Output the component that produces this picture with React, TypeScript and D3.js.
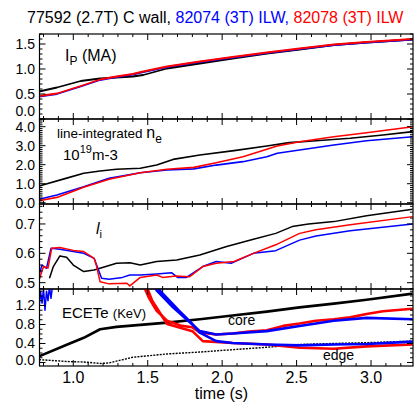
import React from 'react'
import * as d3 from 'd3'

const W = 414
const H = 403
const X0 = 39.5
const X1 = 413
const FONT = "'Liberation Sans', Arial, Helvetica, sans-serif"

const BLACK = '#000000'
const BLUE = '#0000ff'
const RED = '#ff0000'

const titleParts = [
  { text: '77592 (2.7T) C wall, ', color: BLACK },
  { text: '82074 (3T) ILW, ', color: BLUE },
  { text: '82078 (3T) ILW', color: RED },
]

const xTickLabels = [1.0, 1.5, 2.0, 2.5, 3.0]

// plasma current Ip (MA)
const ipTime = [0.77, 0.89, 1.05, 1.18, 1.29, 1.40, 1.47, 1.63, 1.85, 2.07, 2.30, 2.52, 2.75, 2.97, 3.28]
const ipBlack = [0.55, 0.63, 0.76, 0.81, 0.83, 0.85, 0.88, 1.01, 1.11, 1.21, 1.31, 1.39, 1.48, 1.53, 1.59]
const ipBlue = [0.45, 0.50, 0.65, 0.78, 0.84, 0.89, 0.94, 1.04, 1.14, 1.23, 1.32, 1.40, 1.48, 1.53, 1.59]
const ipRed = [0.46, 0.51, 0.66, 0.79, 0.85, 0.90, 0.95, 1.05, 1.15, 1.24, 1.33, 1.41, 1.49, 1.54, 1.60]

// line-integrated density
const neTimeBlack = [0.77, 0.95, 1.07, 1.18, 1.29, 1.45, 1.56, 1.67, 1.85, 2.08, 2.30, 2.45, 2.63, 2.86, 3.08, 3.28]
const neBlack = [0.88, 1.28, 1.55, 1.67, 1.76, 1.81, 1.98, 2.28, 2.51, 2.74, 2.98, 3.16, 3.26, 3.39, 3.56, 3.74]
const neTime = [0.77, 0.89, 1.07, 1.24, 1.45, 1.63, 1.81, 1.96, 2.14, 2.30, 2.37, 2.52, 2.75, 2.97, 3.28]
const neBlue = [0.18, 0.41, 0.84, 1.28, 1.58, 1.72, 1.78, 1.98, 2.16, 2.42, 2.60, 2.77, 3.04, 3.26, 3.47]
const neRed = [0.10, 0.28, 0.81, 1.23, 1.58, 1.76, 1.86, 2.10, 2.42, 2.81, 2.98, 3.21, 3.47, 3.68, 4.00]

// internal inductance li
const liTimeBlack = [0.84, 0.866, 0.91, 0.955, 1.0, 1.07, 1.14, 1.23, 1.29, 1.38, 1.45, 1.56, 1.695, 1.85, 2.03, 2.21, 2.36, 2.47, 2.58, 2.75, 2.97, 3.28]
const liBlack = [0.515, 0.555, 0.591, 0.587, 0.56, 0.538, 0.543, 0.557, 0.566, 0.568, 0.56, 0.572, 0.577, 0.594, 0.623, 0.648, 0.668, 0.691, 0.70, 0.708, 0.728, 0.75]
const liTimeBlue = [0.77, 0.79, 0.82, 0.85, 0.91, 1.0, 1.07, 1.14, 1.19, 1.24, 1.33, 1.38, 1.45, 1.56, 1.66, 1.70, 1.76, 1.87, 1.96, 2.06, 2.21, 2.36, 2.52, 2.63, 2.86, 3.28]
const liBlue = [0.526, 0.56, 0.549, 0.617, 0.614, 0.606, 0.60, 0.583, 0.515, 0.512, 0.518, 0.526, 0.526, 0.53, 0.534, 0.518, 0.518, 0.555, 0.572, 0.566, 0.60, 0.609, 0.645, 0.659, 0.677, 0.70]
const liTimeRed = [0.77, 0.80, 0.83, 0.855, 0.91, 1.0, 1.07, 1.14, 1.157, 1.18, 1.24, 1.36, 1.38, 1.45, 1.56, 1.60, 1.69, 1.78, 1.87, 1.96, 2.08, 2.21, 2.36, 2.52, 2.63, 2.86, 3.28]
const liRed = [0.509, 0.555, 0.55, 0.617, 0.62, 0.61, 0.606, 0.583, 0.555, 0.503, 0.496, 0.498, 0.489, 0.518, 0.526, 0.518, 0.523, 0.52, 0.555, 0.566, 0.572, 0.60, 0.629, 0.668, 0.68, 0.697, 0.725]

// ECE Te (keV), core and edge channels
const teTimeBlackCore = [0.77, 0.96, 1.07, 1.18, 1.29, 1.63, 1.85, 2.07, 2.30, 2.52, 2.75, 2.97, 3.28]
const teBlackCore = [0.13, 0.38, 0.52, 0.70, 0.75, 0.84, 0.91, 0.99, 1.07, 1.16, 1.24, 1.32, 1.45]
const teTimeBlackEdge = [0.77, 0.96, 1.07, 1.18, 1.24, 1.40, 1.63, 1.85, 2.07, 2.30, 2.52, 2.75, 3.00, 3.28]
const teBlackEdge = [0.06, 0.02, 0.01, -0.02, -0.01, 0.11, 0.18, 0.22, 0.27, 0.32, 0.38, 0.40, 0.42, 0.45]
const teTimeBlueEarly = [0.77, 0.78, 0.79, 0.80, 0.81, 0.82, 0.83, 0.84, 0.85, 0.86]
const teBlueEarly = [1.15, 1.5, 1.25, 1.55, 1.1, 1.5, 1.3, 1.6, 1.35, 1.6]
const teTimeBlueCore = [1.53, 1.56, 1.67, 1.76, 1.85, 1.96, 2.07, 2.30, 2.52, 2.75, 2.97, 3.28]
const teBlueCore = [1.7, 1.52, 1.16, 0.91, 0.66, 0.59, 0.61, 0.66, 0.77, 0.88, 0.94, 0.91]
const teTimeBlueEdge = [1.55, 1.58, 1.71, 1.80, 1.85, 1.96, 2.07, 2.30, 2.52, 2.75, 2.97, 3.28]
const teBlueEdge = [1.7, 1.52, 1.09, 0.81, 0.63, 0.45, 0.41, 0.38, 0.36, 0.38, 0.39, 0.44]
const teTimeRedCore = [1.46, 1.51, 1.56, 1.63, 1.73, 1.80, 1.85, 1.96, 2.07, 2.18, 2.30, 2.41, 2.52, 2.63, 2.75, 2.86, 2.97, 3.08, 3.28]
const teRedCore = [1.7, 1.35, 1.09, 0.88, 0.77, 0.74, 0.63, 0.59, 0.61, 0.65, 0.68, 0.77, 0.82, 0.88, 0.91, 0.95, 1.02, 1.08, 1.13]
const teTimeRedEdge = [1.48, 1.53, 1.63, 1.80, 1.87, 2.07, 2.30, 2.52, 2.75, 2.97, 3.28]
const teRedEdge = [1.7, 1.3, 0.81, 0.66, 0.45, 0.41, 0.38, 0.31, 0.29, 0.34, 0.38]

type Series = { t: number[]; v: number[]; color: string; width: number; dash?: string }

type Panel = {
  top: number
  bottom: number
  domain: [number, number]
  major: number
  minor: number
  labelMax: number
  series: Series[]
}

const panels: Panel[] = [
  {
    top: 34, bottom: 119, domain: [0, 1.7], major: 0.5, minor: 0.1, labelMax: 116,
    series: [
      { t: ipTime, v: ipBlack, color: BLACK, width: 1.8 },
      { t: ipTime, v: ipBlue, color: BLUE, width: 1.8 },
      { t: ipTime, v: ipRed, color: RED, width: 1.8 },
    ],
  },
  {
    top: 119, bottom: 204, domain: [-0.068, 4.405], major: 1, minor: 0.1, labelMax: 999,
    series: [
      { t: neTimeBlack, v: neBlack, color: BLACK, width: 1.6 },
      { t: neTime, v: neBlue, color: BLUE, width: 1.6 },
      { t: neTime, v: neRed, color: RED, width: 1.6 },
    ],
  },
  {
    top: 204, bottom: 289, domain: [0.4785, 0.768], major: 0.1, minor: 0.02, labelMax: 999,
    series: [
      { t: liTimeBlack, v: liBlack, color: BLACK, width: 1.5 },
      { t: liTimeBlue, v: liBlue, color: BLUE, width: 1.5 },
      { t: liTimeRed, v: liRed, color: RED, width: 1.5 },
    ],
  },
  {
    top: 289, bottom: 366, domain: [-0.074, 1.547], major: 0.4, minor: 0.1, labelMax: 365,
    series: [
      { t: teTimeBlackCore, v: teBlackCore, color: BLACK, width: 2.6 },
      { t: teTimeBlackEdge, v: teBlackEdge, color: BLACK, width: 1.4, dash: '2,1.2' },
      { t: teTimeBlueEarly, v: teBlueEarly, color: BLUE, width: 1.5 },
      { t: teTimeRedCore, v: teRedCore, color: RED, width: 2.6 },
      { t: teTimeRedEdge, v: teRedEdge, color: RED, width: 2.6 },
      { t: teTimeBlueCore, v: teBlueCore, color: BLUE, width: 2.6 },
      { t: teTimeBlueEdge, v: teBlueEdge, color: BLUE, width: 2.6 },
    ],
  },
]

const x = d3.scaleLinear().domain([0.773, 3.282]).range([X0, X1])

function stepTicks(lo: number, hi: number, step: number) {
  const out: number[] = []
  const a = Math.ceil(lo / step - 1e-9)
  const b = Math.floor(hi / step + 1e-9)
  for (let i = a; i <= b; i++) out.push(+(i * step).toFixed(6))
  return out
}
const isMajor = (v: number, step: number) => Math.abs(v / step - Math.round(v / step)) < 1e-6

function PanelView({ p, i }: { p: Panel; i: number }) {
  const y = d3.scaleLinear().domain(p.domain).range([p.bottom, p.top])
  const xt = stepTicks(0.773, 3.282, 0.1)
  const yt = stepTicks(p.domain[0], p.domain[1], p.minor)
  const fmt = d3.format('.1f')
  const clipId = `clip${i}`
  return (
    <g>
      <defs>
        <clipPath id={clipId}>
          <rect x={X0} y={p.top} width={X1 - X0} height={p.bottom - p.top} />
        </clipPath>
      </defs>
      <g clipPath={`url(#${clipId})`}>
        {p.series.map((s, k) => {
          const pts = s.t.map((t, j) => [x(t), y(s.v[j])] as [number, number])
          return (
            <path key={k} d={d3.line()(pts) || ''} fill="none" stroke={s.color}
              strokeWidth={s.width} strokeDasharray={s.dash} strokeLinejoin="round" />
          )
        })}
      </g>
      {xt.map((t) => {
        const len = isMajor(t, 0.5) ? 6 : 3
        return (
          <g key={'x' + t} stroke={BLACK} strokeWidth={1}>
            <line x1={x(t)} x2={x(t)} y1={p.bottom} y2={p.bottom - len} />
            <line x1={x(t)} x2={x(t)} y1={p.top} y2={p.top + len} />
          </g>
        )
      })}
      {yt.map((v) => {
        const len = isMajor(v, p.major) ? 6 : 3
        return (
          <g key={'y' + v} stroke={BLACK} strokeWidth={1}>
            <line x1={X0} x2={X0 + len} y1={y(v)} y2={y(v)} />
            <line x1={X1} x2={X1 - len} y1={y(v)} y2={y(v)} />
          </g>
        )
      })}
      {yt.filter((v) => isMajor(v, p.major)).map((v) => (
        <text key={'l' + v} x={35} y={Math.min(y(v) + 5, p.labelMax)} textAnchor="end" fontSize={14} fontFamily={FONT}>
          {fmt(v)}
        </text>
      ))}
      <rect x={X0} y={p.top} width={X1 - X0} height={p.bottom - p.top} fill="none" stroke={BLACK} strokeWidth={1.2} />
    </g>
  )
}

export default function App() {
  return (
    <svg width={W} height={H} style={{ position: 'absolute', left: 0, top: 0, background: '#fff' }}>
      <rect width={W} height={H} fill="#fff" />
      <text x={27} y={23} fontSize={16} fontFamily={FONT}>
        {titleParts.map((p, i) => (
          <tspan key={i} fill={p.color}>{p.text}</tspan>
        ))}
      </text>
      {panels.map((p, i) => (
        <PanelView key={i} p={p} i={i} />
      ))}
      {xTickLabels.map((t) => (
        <text key={t} x={x(t)} y={383} textAnchor="middle" fontSize={16} fontFamily={FONT}>
          {d3.format('.1f')(t)}
        </text>
      ))}
      <text x={221.5} y={399} textAnchor="middle" fontSize={16} fontFamily={FONT}>time (s)</text>

      {/* panel labels */}
      <text x={65} y={61} fontSize={16} fontFamily={FONT}>
        I<tspan fontSize={12} dy={4}>P</tspan><tspan dy={-4}> (MA)</tspan>
      </text>
      <text x={57} y={138} fontSize={13.5} fontFamily={FONT}>
        line-integrated <tspan fontSize={16}>n</tspan><tspan fontSize={12} dy={5}>e</tspan>
      </text>
      <text x={63} y={160} fontSize={15} fontFamily={FONT}>
        10<tspan fontSize={11} dy={-7}>19</tspan><tspan dy={7}>m-3</tspan>
      </text>
      <text x={96} y={234} fontSize={16} fontFamily={FONT} fontStyle="italic">
        l<tspan fontSize={11} dy={4} fontStyle="normal">i</tspan>
      </text>
      <text x={62} y={317.5} fontSize={15} fontFamily={FONT}>
        ECETe <tspan fontSize={13}>(KeV)</tspan>
      </text>
      <text x={228} y={325} fontSize={14} fontFamily={FONT}>core</text>
      <text x={323} y={360} fontSize={14} fontFamily={FONT}>edge</text>
    </svg>
  )
}
